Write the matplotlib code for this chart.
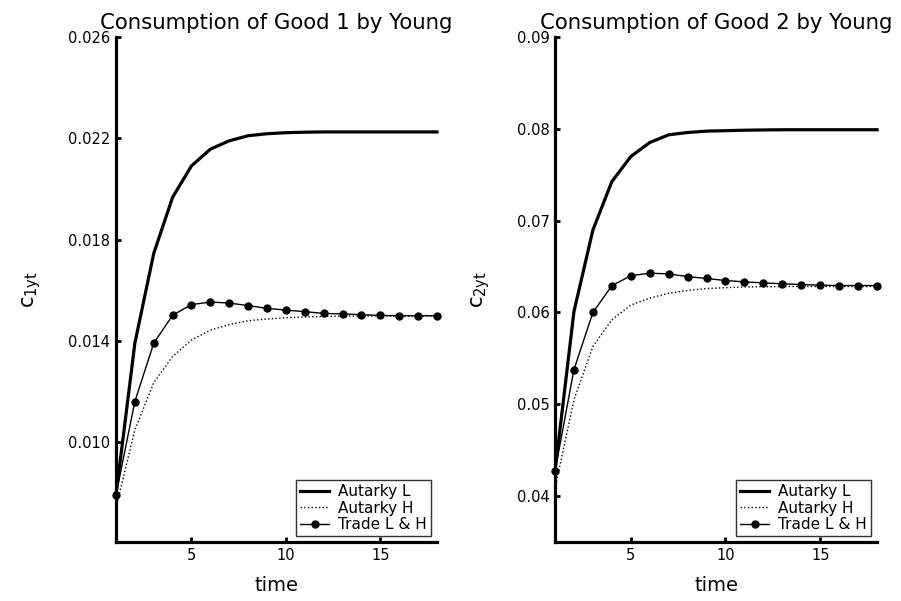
import matplotlib
matplotlib.use('Agg')
import matplotlib.pyplot as plt
from matplotlib.ticker import FormatStrFormatter

# time periods
t = list(range(1, 19))

# good 1 consumption by the young
c1_autarky_L = [0.0079, 0.0139, 0.01745, 0.01967, 0.02091, 0.02157, 0.0219, 0.0221,
                0.02218, 0.02222, 0.02224, 0.02225, 0.02225, 0.02225, 0.02225, 0.02225,
                0.02225, 0.02225]
c1_autarky_H = [0.0074, 0.01048, 0.01234, 0.01338, 0.01403, 0.01442, 0.01464, 0.01479,
                0.01486, 0.01491, 0.01494, 0.01496, 0.01497, 0.01498, 0.01498, 0.01498,
                0.01498, 0.01498]
c1_trade = [0.0079, 0.0116, 0.0139, 0.01501, 0.01543, 0.01553, 0.01549, 0.01539,
            0.01528, 0.01521, 0.01515, 0.01508, 0.01506, 0.01503, 0.015, 0.01499,
            0.01499, 0.01499]

# good 2 consumption by the young
c2_autarky_L = [0.0427, 0.0601, 0.06898, 0.07425, 0.07698, 0.07851, 0.07935, 0.0796,
                0.07975, 0.0798, 0.07985, 0.07988, 0.0799, 0.0799, 0.0799, 0.0799,
                0.0799, 0.0799]
c2_autarky_H = [0.0408, 0.0505, 0.0563, 0.0592, 0.0608, 0.06156, 0.0621, 0.0624,
                0.0626, 0.0627, 0.06278, 0.0628, 0.06282, 0.06283, 0.06283, 0.06283,
                0.06283, 0.06283]
c2_trade = [0.0427, 0.05378, 0.06, 0.06291, 0.064, 0.06428, 0.0642, 0.06391,
            0.0637, 0.06348, 0.06333, 0.06322, 0.06312, 0.06304, 0.06297, 0.06293,
            0.06293, 0.06293]

fig = plt.figure(figsize=(9.01, 6.01), dpi=100)
ax1 = fig.add_axes([0.1287, 0.0982, 0.3563, 0.8402])
ax2 = fig.add_axes([0.616, 0.0982, 0.3574, 0.8402])


def draw(ax, yL, yH, ytr, title, ylab, ylim, yticks, fmt):
    ax.plot(t, yL, color='k', lw=2.3, label='Autarky L', clip_on=False)
    ax.plot(t, yH, color='k', lw=1.0, ls=':', label='Autarky H', clip_on=False)
    ax.plot(t, ytr, color='k', lw=1.0, marker='o', ms=5, label='Trade L & H', clip_on=False)
    ax.set_xlim(1, 18)
    ax.set_ylim(*ylim)
    ax.set_xticks([5, 10, 15])
    ax.set_yticks(yticks)
    ax.yaxis.set_major_formatter(FormatStrFormatter(fmt))
    ax.spines['top'].set_visible(False)
    ax.spines['right'].set_visible(False)
    ax.spines['left'].set_linewidth(2.3)
    ax.spines['bottom'].set_linewidth(2.3)
    ax.tick_params(direction='in', length=3.5, width=2, labelsize=10.5, pad=4)
    ax.set_title(title, fontsize=15.3, pad=6)
    ax.set_xlabel('time', fontsize=14, labelpad=10)
    ax.set_ylabel(ylab, fontsize=15, labelpad=18)
    leg = ax.legend(loc='lower right', fontsize=11, frameon=True, fancybox=False,
                    handlelength=1.9, borderpad=0.25, labelspacing=0.1,
                    borderaxespad=0.4, handletextpad=0.6)
    leg.get_frame().set_edgecolor('k')
    leg.get_frame().set_linewidth(1.0)


draw(ax1, c1_autarky_L, c1_autarky_H, c1_trade, 'Consumption of Good 1 by Young',
     r'$\mathregular{c_{1yt}}$', (0.00605, 0.026),
     [0.010, 0.014, 0.018, 0.022, 0.026], '%.3f')
draw(ax2, c2_autarky_L, c2_autarky_H, c2_trade, 'Consumption of Good 2 by Young',
     r'$\mathregular{c_{2yt}}$', (0.035, 0.09),
     [0.04, 0.05, 0.06, 0.07, 0.08, 0.09], '%.2f')

plt.savefig('out.png', dpi=100)
